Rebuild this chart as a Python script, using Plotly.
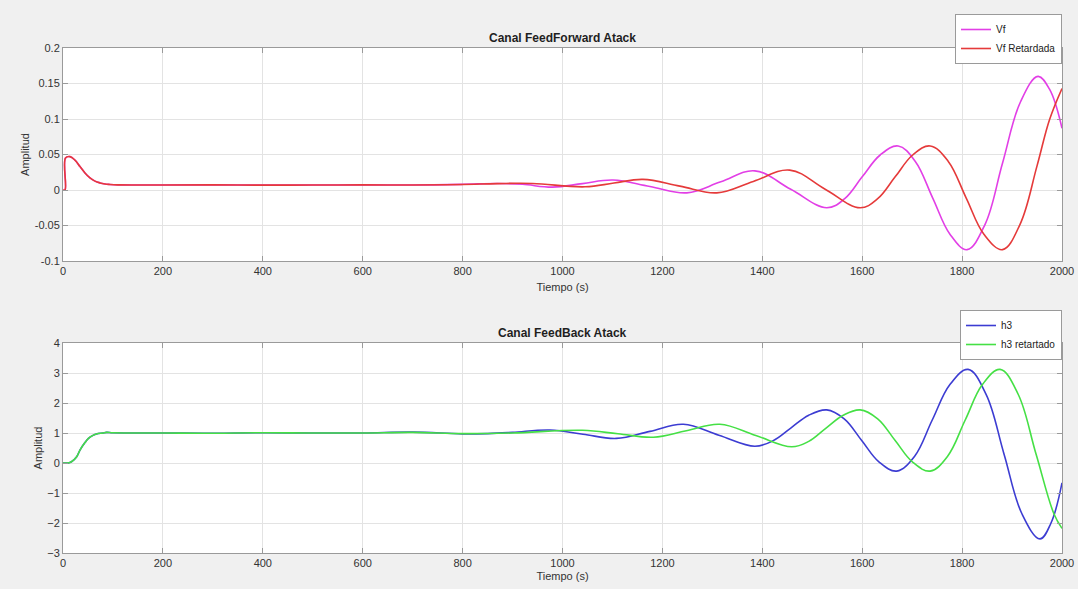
import plotly.graph_objects as go

W, H = 1078, 589

# ---------------- data ----------------
t_vf = [0, 4, 5, 14, 24, 34, 44, 54, 64, 74, 84, 94, 110, 150, 200, 300, 400, 500, 600, 700,
        800, 870, 920, 980, 1040, 1101, 1175, 1249, 1317, 1385, 1457, 1529, 1565, 1600, 1636,
        1672, 1706, 1741, 1776, 1810, 1846, 1881, 1917, 1952, 1975, 2000]
vf = [0, 0, 0.045, 0.047, 0.042, 0.033, 0.024, 0.017, 0.0125, 0.010, 0.0085, 0.0078, 0.0072,
      0.0070, 0.0070, 0.0072, 0.0068, 0.0070, 0.0072, 0.0070,
      0.0080, 0.0092, 0.0080, 0.0040, 0.0090, 0.0140, 0.0050, -0.0040, 0.0115, 0.0270, 0.0010,
      -0.0250, -0.0123, 0.0185, 0.0493,
      0.0620, 0.0406, -0.0110, -0.0626, -0.0840, -0.0483, 0.0380, 0.1243, 0.1600, 0.1420, 0.0870]

t_vf_ret = [0, 4, 5, 14, 24, 34, 44, 54, 64, 74, 84, 94, 110, 150, 200, 300, 400, 500, 600, 700,
            800, 870, 940, 1045, 1103, 1161, 1235, 1309, 1382, 1455, 1525, 1596, 1631, 1666, 1701,
            1736, 1772, 1808, 1844, 1881, 1916, 1950, 1975, 2000]
vf_ret = [0, 0, 0.045, 0.047, 0.042, 0.033, 0.024, 0.017, 0.0125, 0.010, 0.0085, 0.0078, 0.0072,
          0.0070, 0.0070, 0.0072, 0.0068, 0.0070, 0.0072, 0.0070,
          0.0078, 0.0090, 0.0092, 0.0045, 0.0098, 0.0150, 0.0055, -0.0040, 0.0120, 0.0280, 0.0015,
          -0.0250, -0.0123, 0.0185, 0.0493,
          0.0620, 0.0406, -0.0110, -0.0626, -0.0840, -0.0483, 0.0340, 0.0990, 0.1430]

t_h3 = [0, 10, 17, 27, 34, 44, 51, 60, 67, 80, 87, 100, 200, 300, 400, 500, 600, 700, 800, 850,
        900, 975, 1041, 1108, 1175, 1242, 1313, 1385, 1421, 1457, 1493, 1529, 1564, 1599, 1634,
        1669, 1705, 1740, 1776, 1812, 1848, 1884, 1920, 1956, 1978, 2000]
h3 = [0, 0, 0.04, 0.20, 0.43, 0.68, 0.82, 0.92, 0.97, 1.00, 1.02, 1.01, 1.00, 0.99, 1.01, 1.00,
      1.00, 1.03, 0.97, 0.98,
      1.02, 1.10, 0.96, 0.82, 1.055, 1.29, 0.925, 0.56, 0.737, 1.165, 1.593, 1.77, 1.471, 0.75,
      0.029,
      -0.27, 0.227, 1.425, 2.623, 3.12, 2.29, 0.295, -1.70, -2.53, -2.00, -0.66]

t_h3_ret = [0, 10, 17, 27, 34, 44, 51, 60, 67, 80, 87, 100, 200, 300, 400, 500, 600, 700, 800,
            900, 1040, 1111, 1182, 1248, 1315, 1387, 1459, 1493, 1527, 1562, 1596, 1631, 1666,
            1701, 1736, 1771, 1806, 1841, 1876, 1912, 1948, 1984, 2000]
h3_ret = [0, 0, 0.04, 0.20, 0.43, 0.68, 0.82, 0.92, 0.97, 1.00, 1.02, 1.01, 1.00, 0.99, 1.01,
          1.00, 1.00, 1.02, 0.98,
          1.00, 1.09, 0.975, 0.86, 1.075, 1.29, 0.915, 0.54, 0.72, 1.155, 1.59, 1.77, 1.471, 0.75,
          0.029, -0.27, 0.227, 1.425, 2.623, 3.12, 2.30, 0.30, -1.70, -2.18]

x_ticks = [0, 200, 400, 600, 800, 1000, 1200, 1400, 1600, 1800, 2000]
y1_ticks = [-0.1, -0.05, 0, 0.05, 0.1, 0.15, 0.2]
y1_labels = ["-0.1", "-0.05", "0", "0.05", "0.1", "0.15", "0.2"]
y2_ticks = [-3, -2, -1, 0, 1, 2, 3, 4]

# ---------------- figure ----------------
FONT = "Liberation Sans, Arial, Helvetica, sans-serif"
AX = "#9a9a9a"
GRID = "#e3e3e3"
TXT = "#333333"
LINE = dict(width=1.6, shape="spline", smoothing=1.1)

fig = go.Figure()
fig.add_trace(go.Scatter(x=t_vf, y=vf, name="Vf", mode="lines",
                         line=dict(color="#e23fe6", **LINE),
                         xaxis="x", yaxis="y", legend="legend"))
fig.add_trace(go.Scatter(x=t_vf_ret, y=vf_ret, name="Vf Retardada", mode="lines",
                         line=dict(color="#e53a3a", **LINE),
                         xaxis="x", yaxis="y", legend="legend"))
fig.add_trace(go.Scatter(x=t_h3, y=h3, name="h3", mode="lines",
                         line=dict(color="#3c3cd2", **LINE),
                         xaxis="x2", yaxis="y2", legend="legend2"))
fig.add_trace(go.Scatter(x=t_h3_ret, y=h3_ret, name="h3 retartado", mode="lines",
                         line=dict(color="#45e045", **LINE),
                         xaxis="x2", yaxis="y2", legend="legend2"))

xdom = [63 / W, 1062 / W]
top_dom = [1 - 261 / H, 1 - 48 / H]
bot_dom = [1 - 553 / H, 1 - 343 / H]

common_axis = dict(showline=True, linecolor=AX, linewidth=1, mirror="allticks",
                   ticks="inside", ticklen=5, tickcolor=AX, showgrid=True,
                   gridcolor=GRID, gridwidth=1, zeroline=False, automargin=False,
                   tickfont=dict(family=FONT, size=11, color=TXT))

legend_style = dict(x=1062 / W, xanchor="right", yanchor="top",
                    bgcolor="#ffffff", bordercolor=AX, borderwidth=1,
                    font=dict(family=FONT, size=10, color="#222222"),
                    tracegroupgap=0, itemwidth=30)

fig.update_layout(
    width=W, height=H, autosize=False,
    margin=dict(l=0, r=0, t=0, b=0, autoexpand=False),
    paper_bgcolor="#f0f0f0", plot_bgcolor="#ffffff",
    font=dict(family=FONT, size=11, color=TXT),
    xaxis=dict(domain=xdom, anchor="y", range=[0, 2000], tickvals=x_ticks,
               title=dict(text="Tiempo (s)", standoff=7, font=dict(size=11, color=TXT)),
               **common_axis),
    yaxis=dict(domain=top_dom, anchor="x", range=[-0.1, 0.2], tickvals=y1_ticks,
               ticktext=y1_labels,
               title=dict(text="Amplitud", standoff=2, font=dict(size=11, color=TXT)),
               **common_axis),
    xaxis2=dict(domain=xdom, anchor="y2", range=[0, 2000], tickvals=x_ticks,
                title=dict(text="Tiempo (s)", standoff=4, font=dict(size=11, color=TXT)),
                **common_axis),
    yaxis2=dict(domain=bot_dom, anchor="x2", range=[-3, 4], tickvals=y2_ticks,
                title=dict(text="Amplitud", standoff=2, font=dict(size=11, color=TXT)),
                **common_axis),
    legend=dict(y=1 - 14 / H, **legend_style),
    legend2=dict(y=1 - 310 / H, **legend_style),
    showlegend=True,
    annotations=[
        dict(text="<b>Canal FeedForward Atack</b>", x=0.5 * (xdom[0] + xdom[1]), y=1 - 38 / H,
             xref="paper", yref="paper", showarrow=False, xanchor="center", yanchor="middle",
             font=dict(family=FONT, size=12, color="#1f1f1f")),
        dict(text="<b>Canal FeedBack Atack</b>", x=0.5 * (xdom[0] + xdom[1]), y=1 - 333 / H,
             xref="paper", yref="paper", showarrow=False, xanchor="center", yanchor="middle",
             font=dict(family=FONT, size=12, color="#1f1f1f")),
    ],
)

fig.write_html("out.html",
               config={"displayModeBar": False, "responsive": False},
               post_script="document.body.style.margin='0';document.body.style.padding='0';")
